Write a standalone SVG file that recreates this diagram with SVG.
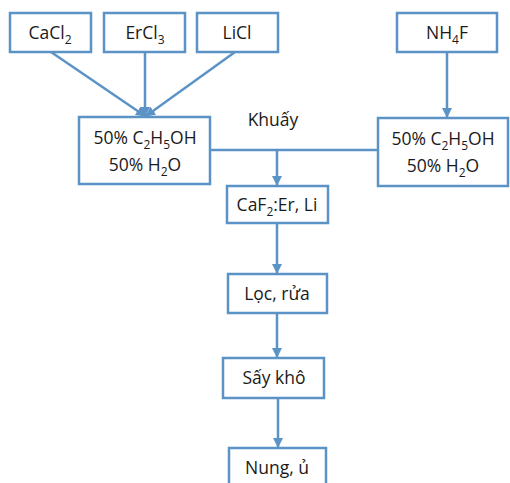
<svg xmlns="http://www.w3.org/2000/svg" width="510" height="483" viewBox="0 0 510 483">
<defs>
<style>
.box{fill:#fff;stroke:#5b93c7;stroke-width:2.5}
.ln{fill:none;stroke:#5b93c7;stroke-width:2.5}
text{font-family:"Open Sans","Liberation Sans",sans-serif;font-size:17.5px;fill:#1a1a1a;text-anchor:middle}
.sub{font-size:12px}
</style>
<marker id="ah" viewBox="0 0 10 10" refX="9" refY="5" markerWidth="4" markerHeight="4" orient="auto" markerUnits="strokeWidth">
<path d="M0,0 L10,5 L0,10 z" fill="#5b93c7"/>
</marker>
</defs>
<rect width="510" height="483" fill="#fff"/>
<g id="connectors">
<line class="ln" x1="51" y1="52" x2="145" y2="116" marker-end="url(#ah)"/>
<line class="ln" x1="145" y1="52" x2="145" y2="116" marker-end="url(#ah)"/>
<line class="ln" x1="235" y1="52" x2="146" y2="116" marker-end="url(#ah)"/>
<line class="ln" x1="447" y1="52" x2="447" y2="117" marker-end="url(#ah)"/>
<line class="ln" x1="210" y1="150" x2="378" y2="150"/>
<line class="ln" x1="277" y1="150" x2="277" y2="185" marker-end="url(#ah)"/>
<line class="ln" x1="277" y1="223" x2="277" y2="273" marker-end="url(#ah)"/>
<line class="ln" x1="277" y1="313" x2="277" y2="357" marker-end="url(#ah)"/>
<line class="ln" x1="278" y1="398" x2="278" y2="447" marker-end="url(#ah)"/>
</g>
<g id="cacl2"><rect class="box" x="10" y="13" width="81" height="39"/><text x="50" y="39">CaCl<tspan class="sub" dy="5">2</tspan></text></g>
<g id="ercl3"><rect class="box" x="104" y="13" width="81" height="39"/><text x="145" y="39">ErCl<tspan class="sub" dy="5">3</tspan></text></g>
<g id="licl"><rect class="box" x="197" y="13" width="81" height="39"/><text x="237" y="39">LiCl</text></g>
<g id="nh4f"><rect class="box" x="397" y="13" width="100" height="39"/><text x="447" y="39">NH<tspan class="sub" dy="5">4</tspan><tspan dy="-5">F</tspan></text></g>
<g id="mix-left"><rect class="box" x="79" y="117" width="131" height="67"/>
<text x="145" y="144">50% C<tspan class="sub" dy="5">2</tspan><tspan dy="-5">H</tspan><tspan class="sub" dy="5">5</tspan><tspan dy="-5">OH</tspan></text>
<text x="145" y="171">50% H<tspan class="sub" dy="5">2</tspan><tspan dy="-5">O</tspan></text></g>
<g id="mix-right"><rect class="box" x="378" y="118" width="130" height="68"/>
<text x="443" y="145">50% C<tspan class="sub" dy="5">2</tspan><tspan dy="-5">H</tspan><tspan class="sub" dy="5">5</tspan><tspan dy="-5">OH</tspan></text>
<text x="443" y="172">50% H<tspan class="sub" dy="5">2</tspan><tspan dy="-5">O</tspan></text></g>
<g id="khuay"><text x="273" y="126">Khuấy</text></g>
<g id="caf2"><rect class="box" x="227" y="186" width="101" height="37"/><text x="277" y="211">CaF<tspan class="sub" dy="5">2</tspan><tspan dy="-5">:Er, Li</tspan></text></g>
<g id="loc"><rect class="box" x="228" y="274" width="99" height="39"/><text x="277" y="300">Lọc, rửa</text></g>
<g id="say"><rect class="box" x="223" y="358" width="101" height="40"/><text x="274" y="384">Sấy khô</text></g>
<g id="nung"><rect class="box" x="229" y="448" width="97" height="40"/><text x="277" y="474">Nung, ủ</text></g>
</svg>
